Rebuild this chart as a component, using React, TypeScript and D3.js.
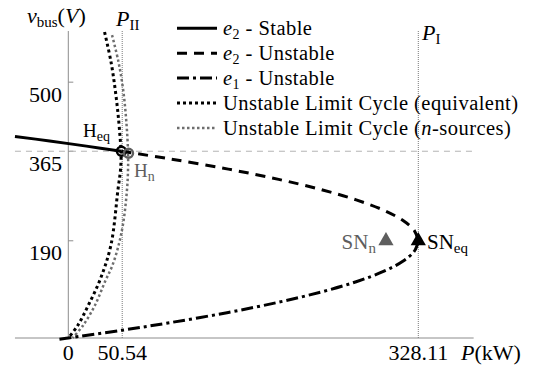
import React from "react";
import * as d3 from "d3";

// Power axis ticks (kW) and bus-voltage axis ticks (V)
const pTicks = [0, 50.54, 328.11];
const pTickLabels = ["0", "50.54", "328.11"];
const vTicks = [190, 365, 500];
const vTickLabels = ["190", "365", "500"];

// Equilibrium branches: [P (kW), v_bus (V)]
const e2Stable: [number, number][] = [
  [-50, 394], [-17.5, 385], [17, 375], [49.8, 365],
];
const e2Unstable: [number, number][] = [
  [49.8, 365], [95.4, 350], [150, 330], [197.2, 310], [237.2, 290],
  [269.9, 270], [295.4, 250], [313.5, 230], [324.4, 210], [328.11, 190],
];
const e1Unstable: [number, number][] = [
  [328.11, 190], [324.5, 170], [313.6, 150], [295.4, 130], [269.9, 110],
  [237.2, 90], [197.2, 70], [150, 50], [95.4, 30], [49.8, 15], [0, 0], [-10.4, -3],
];

// Unstable limit cycle amplitude, equivalent model and n-sources model
const cycleEquivalent: [number, number][] = [
  [34, 598], [40, 540], [44, 485], [47, 430], [49, 380], [49.5, 365],
  [49, 330], [46.5, 289], [40, 182], [30, 115], [19, 65], [9, 25], [0, 0],
];
const cycleNSources: [number, number][] = [
  [41, 592], [47, 540], [51.5, 484], [54.5, 420], [56, 363], [56, 330],
  [55, 289], [51.5, 225], [47, 180], [41, 140], [35, 113], [25, 64],
  [14, 25], [4, 0],
];

// Hopf and saddle-node bifurcation points
const hopfEq: [number, number] = [49.8, 365];
const hopfN: [number, number] = [56.4, 361];
const snEq: [number, number] = [328.11, 190];
const snN: [number, number] = [297.8, 190];

const W = 537;
const H = 373;
const FONT_STYLE = { fontFamily: '"Liberation Serif"' };
const AXIS_GRAY = "#8c8c8c";
const MARK_GRAY = "#5e5e5e";

const x = d3.scaleLinear().domain([0, 328.11]).range([68.3, 418.3]);
const y = d3.scaleLinear().domain([0, 600]).range([338, 31]);

const xMin = -50;
const xMax = 380;

const line = d3
  .line<[number, number]>()
  .x((d) => x(d[0]))
  .y((d) => y(d[1]))
  .curve(d3.curveCatmullRom.alpha(0.5));

const triangle = d3.symbol().type(d3.symbolTriangle).size(100)();

// Subscript followed (optionally) by text returned to the baseline
function sub(t: string, size: number, after?: React.ReactNode) {
  return (
    <>
      <tspan dy={4} fontSize={size} fontStyle="normal">{t}</tspan>
      {after !== undefined && <tspan dy={-4}>{after}</tspan>}
    </>
  );
}

type LegendItem = {
  dash: string;
  width: number;
  color: string;
  label: React.ReactNode;
};

const legendItems: LegendItem[] = [
  {
    dash: "none",
    width: 3,
    color: "#000",
    label: (
      <>
        <tspan fontStyle="italic">e</tspan>
        {sub("2", 14, " - Stable")}
      </>
    ),
  },
  {
    dash: "10,7",
    width: 3,
    color: "#000",
    label: (
      <>
        <tspan fontStyle="italic">e</tspan>
        {sub("2", 14, " - Unstable")}
      </>
    ),
  },
  {
    dash: "12,4,3,4",
    width: 3,
    color: "#000",
    label: (
      <>
        <tspan fontStyle="italic">e</tspan>
        {sub("1", 14, " - Unstable")}
      </>
    ),
  },
  {
    dash: "3,3",
    width: 3,
    color: "#000",
    label: <tspan>Unstable Limit Cycle (equivalent)</tspan>,
  },
  {
    dash: "2.5,2.5",
    width: 2.5,
    color: "#6e6e6e",
    label: (
      <>
        <tspan>Unstable Limit Cycle (</tspan>
        <tspan fontStyle="italic">n</tspan>
        <tspan>-sources)</tspan>
      </>
    ),
  },
];

export default function App() {
  return (
    <svg
      width={W}
      height={H}
      viewBox={`0 0 ${W} ${H}`}
      style={{ position: "absolute", left: 0, top: 0, background: "#fff" }}
    >
      {/* axes */}
      <line x1={x(xMin)} x2={x(xMax)} y1={y(0)} y2={y(0)} stroke={AXIS_GRAY} strokeWidth={1} />
      <line x1={x(0)} x2={x(0)} y1={y(0)} y2={y(600)} stroke={AXIS_GRAY} strokeWidth={1} />
      {vTicks.map((v) => (
        <line key={v} x1={x(0)} x2={x(0) + 5} y1={y(v)} y2={y(v)} stroke={AXIS_GRAY} strokeWidth={1} />
      ))}

      {/* reference lines */}
      <line
        x1={x(xMin)} x2={x(xMax)} y1={y(365)} y2={y(365)}
        stroke="#b4b4b4" strokeWidth={1} strokeDasharray="6,5"
      />
      <line
        x1={x(50.54)} x2={x(50.54)} y1={y(0)} y2={y(600)}
        stroke="#7a7a7a" strokeWidth={1} strokeDasharray="1,1"
      />
      <line
        x1={x(328.11)} x2={x(328.11)} y1={y(0)} y2={y(600)}
        stroke="#7a7a7a" strokeWidth={1} strokeDasharray="1,1"
      />

      {/* tick labels */}
      {pTicks.map((p, i) => (
        <text key={p} x={x(p)} y={360} textAnchor="middle" fontSize={22} style={FONT_STYLE}>
          {pTickLabels[i]}
        </text>
      ))}
      {vTicks.map((v, i) => (
        <text key={v} x={62} y={y(v) + 19.5} textAnchor="end" fontSize={22} style={FONT_STYLE}>
          {vTickLabels[i]}
        </text>
      ))}

      {/* axis titles */}
      <text x={27} y={23} fontSize={22} style={FONT_STYLE}>
        <tspan fontStyle="italic">v</tspan>
        {sub("bus", 15, "(")}
        <tspan fontStyle="italic">V</tspan>
        <tspan>)</tspan>
      </text>
      <text x={461} y={360} fontSize={22} style={FONT_STYLE}>
        <tspan fontStyle="italic">P</tspan>
        <tspan>(kW)</tspan>
      </text>
      <text x={116} y={26} fontSize={22} style={FONT_STYLE}>
        <tspan fontStyle="italic">P</tspan>
        {sub("II", 15)}
      </text>
      <text x={422} y={40} fontSize={22} style={FONT_STYLE}>
        <tspan fontStyle="italic">P</tspan>
        {sub("I", 15)}
      </text>

      {/* limit cycles */}
      <path d={line(cycleNSources) ?? ""} fill="none" stroke="#6e6e6e" strokeWidth={2.5} strokeDasharray="2.5,2.5" />
      <path d={line(cycleEquivalent) ?? ""} fill="none" stroke="#000" strokeWidth={3} strokeDasharray="3,3" />

      {/* equilibrium branches */}
      <path d={line(e2Stable) ?? ""} fill="none" stroke="#000" strokeWidth={3} />
      <path d={line(e2Unstable) ?? ""} fill="none" stroke="#000" strokeWidth={3} strokeDasharray="10,7" />
      <path d={line(e1Unstable) ?? ""} fill="none" stroke="#000" strokeWidth={3} strokeDasharray="12,4,3,4" />

      {/* bifurcation markers */}
      <circle cx={x(hopfEq[0])} cy={y(hopfEq[1])} r={4.5} fill="none" stroke="#000" strokeWidth={2.5} />
      <circle cx={x(hopfN[0])} cy={y(hopfN[1])} r={4.5} fill="none" stroke={MARK_GRAY} strokeWidth={2.5} />
      <path d={triangle ?? ""} transform={`translate(${x(snEq[0])},${y(snEq[1])})`} fill="#000" />
      <path d={triangle ?? ""} transform={`translate(${x(snN[0])},${y(snN[1])})`} fill={MARK_GRAY} />

      <text x={83} y={137} fontSize={19} style={FONT_STYLE}>
        <tspan>H</tspan>
        {sub("eq", 14)}
      </text>
      <text x={134} y={177} fontSize={19} fill={MARK_GRAY} style={FONT_STYLE}>
        <tspan>H</tspan>
        {sub("n", 14)}
      </text>
      <text x={x(snN[0]) - 10} y={249} fontSize={21} fill={MARK_GRAY} textAnchor="end" style={FONT_STYLE}>
        <tspan>SN</tspan>
        {sub("n", 15)}
      </text>
      <text x={427} y={249} fontSize={21} style={FONT_STYLE}>
        <tspan>SN</tspan>
        {sub("eq", 15)}
      </text>

      {/* legend */}
      {legendItems.map((item, i) => {
        const ly = 28.3 + i * 24.9;
        return (
          <g key={i}>
            <line
              x1={177} x2={217} y1={ly} y2={ly}
              stroke={item.color} strokeWidth={item.width}
              strokeDasharray={item.dash === "none" ? undefined : item.dash}
            />
            <text x={223} y={ly + 7} fontSize={20.5} letterSpacing={0.45} style={FONT_STYLE}>
              {item.label}
            </text>
          </g>
        );
      })}
    </svg>
  );
}
